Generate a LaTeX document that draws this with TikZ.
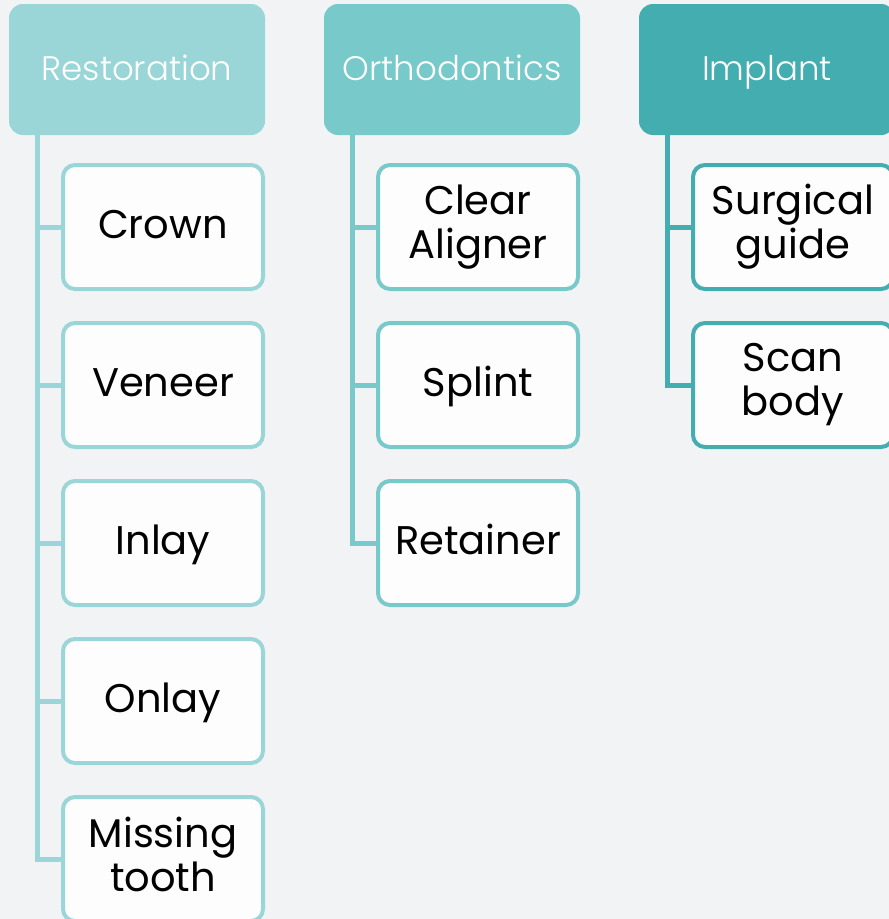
\documentclass[tikz,border=0pt]{standalone}
\usepackage{fontspec}
\setmainfont{Poppins}
\newfontfamily\headfont{Poppins Light}
\usetikzlibrary{positioning}
\definecolor{bgcol}{HTML}{F1F3F5}
\definecolor{restcol}{HTML}{9AD6D7}
\definecolor{orthocol}{HTML}{78C9CA}
\definecolor{implcol}{HTML}{43ADB0}
\definecolor{boxfill}{HTML}{FDFDFE}
\newcommand{\istrut}{\rule[-0.24em]{0pt}{1.05em}}

\begin{document}
\begin{tikzpicture}[x=1pt,y=1pt,
  node distance=30pt,
  header/.style={rectangle,rounded corners=14pt,fill=#1,text=white,minimum width=256pt,minimum height=131pt,inner sep=0pt,outer sep=0pt,text height=29pt,text depth=8pt,font=\headfont\fontsize{34}{40}\selectfont},
  item/.style={rectangle,rounded corners=12pt,draw=#1,line width=4pt,fill=boxfill,minimum width=200pt,minimum height=124pt,align=center,inner sep=0pt,execute at begin node=\istrut,font=\fontsize{40}{44}\selectfont},
  branch/.style={draw=#1,line width=5pt}]
\fill[bgcol] (0,0) rectangle (889,-919);
\useasboundingbox (0,0) rectangle (889,-919);
\clip (0,0) rectangle (889,-919);
% headers
\node[header=restcol] (rest) at (137,-69.5) {Restoration};
\node[header=orthocol] (ortho) at (452,-69.5) {Orthodontics};
\node[header=implcol] (impl) at (767,-69.5) {Implant};
% restoration items
\node[item=restcol,below=28pt of rest,xshift=26pt] (crown) {Crown};
\node[item=restcol,below=of crown] (veneer) {Veneer};
\node[item=restcol,below=of veneer] (inlay) {Inlay};
\node[item=restcol,below=of inlay] (onlay) {Onlay};
\node[item=restcol,below=of onlay] (missing) {Missing\\\istrut tooth};
% orthodontics items
\node[item=orthocol,below=28pt of ortho,xshift=26pt] (aligner) {Clear\\\istrut Aligner};
\node[item=orthocol,below=of aligner] (splint) {Splint};
\node[item=orthocol,below=of splint] (retainer) {Retainer};
% implant items
\node[item=implcol,below=28pt of impl,xshift=26pt] (guide) {Surgical\\\istrut guide};
\node[item=implcol,below=of guide] (scanbody) {Scan\\\istrut body};
% branches
\foreach \c in {crown,veneer,inlay,onlay,missing}
  \draw[branch=restcol] ([xshift=28pt]rest.south west) |- (\c.west);
\foreach \c in {aligner,splint,retainer}
  \draw[branch=orthocol] ([xshift=28pt]ortho.south west) |- (\c.west);
\foreach \c in {guide,scanbody}
  \draw[branch=implcol] ([xshift=28pt]impl.south west) |- (\c.west);
\end{tikzpicture}
\end{document}
